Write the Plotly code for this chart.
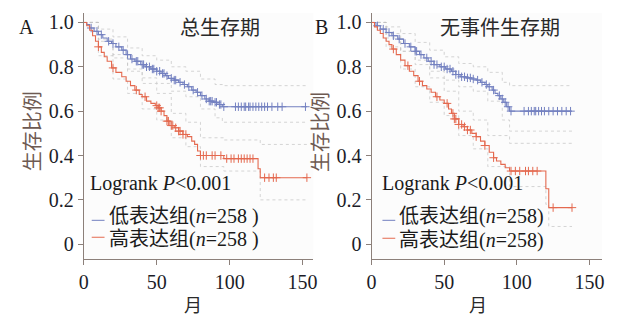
import numpy as np
import plotly.graph_objects as go

W, H = 620, 322

# ---------------- Panel A: overall survival ----------------
a_low_t = [0, 2, 4, 7, 10, 13, 16, 19, 22, 26, 29, 32, 35, 39, 42, 46, 50, 53, 56, 58,
           62, 65, 68, 71, 74, 77, 80, 83, 86, 89, 92, 95, 153]
a_low_s = [1.0, 0.99, 0.975, 0.96, 0.945, 0.93, 0.915, 0.905, 0.89, 0.875, 0.855, 0.835,
           0.825, 0.81, 0.80, 0.79, 0.78, 0.77, 0.76, 0.748, 0.74, 0.73, 0.72, 0.71, 0.695,
           0.685, 0.67, 0.655, 0.645, 0.64, 0.63, 0.62, 0.62]
a_low_cens = [5, 9, 12, 17, 20, 24, 27, 30, 33, 36, 37, 40, 41, 43, 45, 47, 48, 50, 52, 54,
              55, 57, 60, 62, 63, 66, 69, 72, 75, 78, 81, 84, 86, 87, 88, 90, 91, 93, 94, 96,
              104, 106, 108, 110, 111, 113, 114, 116, 118, 120, 122, 124, 126, 129, 133, 136, 152]

a_high_t = [0, 2, 4, 6, 8, 10, 12, 14, 16, 19, 22, 26, 29, 32, 35, 38, 40, 43, 46, 49, 51,
            53, 55, 57, 59, 62, 65, 68, 71, 74, 76, 78, 80, 96, 119.5, 121, 153]
a_high_s = [1.0, 0.985, 0.965, 0.94, 0.915, 0.89, 0.865, 0.845, 0.825, 0.795, 0.775, 0.755,
            0.735, 0.715, 0.695, 0.675, 0.665, 0.645, 0.635, 0.625, 0.615, 0.60, 0.58, 0.555,
            0.535, 0.525, 0.51, 0.495, 0.485, 0.465, 0.45, 0.42, 0.40, 0.386, 0.34, 0.30, 0.30]
a_high_cens = [10, 20, 36, 42, 50, 51, 52, 53, 57, 58, 60, 61, 63, 65, 66, 68, 70, 80, 82, 84,
               88, 90, 94, 98, 101, 103, 106, 108, 110, 112, 114, 116, 124, 127, 130, 132, 153]

a_ci_t = [0, 10, 20, 30, 40, 50, 60, 70, 80, 90, 95, 153]
a_low_upper = [1.0, 0.97, 0.935, 0.885, 0.85, 0.83, 0.80, 0.78, 0.745, 0.72, 0.715, 0.715]
a_low_lower = [1.0, 0.915, 0.855, 0.79, 0.75, 0.725, 0.69, 0.665, 0.61, 0.57, 0.55, 0.55]
a_hci_t = [0, 10, 20, 30, 40, 50, 60, 70, 80, 96, 121, 153]
a_high_upper = [1.0, 0.925, 0.84, 0.78, 0.725, 0.68, 0.59, 0.55, 0.48, 0.47, 0.45, 0.45]
a_high_lower = [1.0, 0.85, 0.745, 0.68, 0.61, 0.56, 0.48, 0.44, 0.35, 0.33, 0.20, 0.20]

# ---------------- Panel B: event-free survival ----------------
b_low_t = [0, 3, 6, 10, 14, 18, 22, 26, 30, 33, 36, 39, 43, 47, 51, 55, 58, 61, 65, 69, 72,
           75, 78, 80, 83, 85, 87, 89, 91, 93, 95, 138]
b_low_s = [1.0, 0.985, 0.97, 0.955, 0.94, 0.925, 0.905, 0.89, 0.87, 0.855, 0.84, 0.825, 0.81,
           0.80, 0.79, 0.78, 0.765, 0.755, 0.75, 0.745, 0.74, 0.73, 0.72, 0.71, 0.695, 0.68,
           0.67, 0.655, 0.64, 0.62, 0.60, 0.60]
b_low_cens = [4, 8, 12, 15, 19, 23, 27, 30, 31, 34, 38, 41, 43, 45, 48, 50, 52, 54, 56, 58,
              60, 62, 64, 66, 68, 70, 73, 76, 79, 81, 84, 88, 90, 92, 94, 96, 105, 108, 110,
              112, 113, 115, 117, 119, 122, 125, 128, 131, 134, 137]

b_high_t = [0, 2, 4, 6, 8, 10, 12, 14, 17, 20, 23, 26, 29, 32, 35, 38, 41, 44, 47, 50, 53, 55,
            57, 60, 63, 66, 69, 72, 75, 78, 81, 84, 86, 89, 92, 95, 120, 122, 138]
b_high_s = [1.0, 0.98, 0.965, 0.95, 0.93, 0.915, 0.9, 0.88, 0.855, 0.83, 0.805, 0.78, 0.76,
            0.735, 0.715, 0.7, 0.685, 0.665, 0.65, 0.635, 0.61, 0.59, 0.565, 0.54, 0.53, 0.515,
            0.5, 0.485, 0.465, 0.445, 0.415, 0.39, 0.375, 0.36, 0.345, 0.33, 0.25, 0.165, 0.165]
b_high_cens = [15, 25, 33, 45, 52, 56, 57, 58, 60, 62, 64, 66, 68, 72, 78, 84, 96, 99, 102,
               106, 108, 111, 114, 125, 138]

b_ci_t = [0, 10, 20, 30, 40, 50, 60, 70, 80, 90, 95, 138]
b_low_upper = [1.0, 0.98, 0.95, 0.91, 0.875, 0.845, 0.815, 0.80, 0.775, 0.73, 0.715, 0.715]
b_low_lower = [1.0, 0.93, 0.87, 0.83, 0.78, 0.74, 0.71, 0.69, 0.645, 0.56, 0.51, 0.51]
b_hci_t = [0, 10, 20, 30, 40, 50, 60, 70, 80, 95, 120, 122, 138]
b_high_upper = [1.0, 0.95, 0.87, 0.81, 0.75, 0.69, 0.60, 0.56, 0.49, 0.455, 0.455, 0.455, 0.455]
b_high_lower = [1.0, 0.89, 0.79, 0.71, 0.64, 0.58, 0.49, 0.43, 0.35, 0.26, 0.18, 0.08, 0.08]

y_ticks = [0, 0.2, 0.4, 0.6, 0.8, 1.0]
y_tick_text = ["0", "0.2", "0.4", "0.6", "0.8", "1.0"]
x_ticks = [0, 50, 100, 150]
panel_titles = ["总生存期", "无事件生存期"]
panel_letters = ["A", "B"]
group_labels = [["低表达组(<i>n</i>=258 )", "高表达组(<i>n</i>=258 )"],
                ["低表达组(<i>n</i>=258)", "高表达组(<i>n</i>=258)"]]
stat_text = "Logrank <i>P</i><0.001"

BLUE = "#7380c0"
RED = "#e4694f"
CI = "rgba(195,195,195,0.7)"
AXIS = "#8c807a"
SERIF = "Liberation Serif, 'Noto Sans CJK SC'"
CJK = "'Noto Sans CJK SC'"


def fx(p):
    return p / W


def fy(p):
    return 1 - p / H


def at(t, s, tc):
    idx = np.searchsorted(np.asarray(t), np.asarray(tc), side="right") - 1
    return np.asarray(s)[idx]


fig = go.Figure()

panels = [
    dict(xa="x", ya="y",
         curves=[(a_low_t, a_low_s, a_low_cens, BLUE), (a_high_t, a_high_s, a_high_cens, RED)],
         bands=[(a_ci_t, a_low_upper, a_low_lower), (a_hci_t, a_high_upper, a_high_lower)]),
    dict(xa="x2", ya="y2",
         curves=[(b_low_t, b_low_s, b_low_cens, BLUE), (b_high_t, b_high_s, b_high_cens, RED)],
         bands=[(b_ci_t, b_low_upper, b_low_lower), (b_hci_t, b_high_upper, b_high_lower)]),
]

for p in panels:
    for bt, up, lo in p["bands"]:
        for arr in (up, lo):
            fig.add_trace(go.Scatter(x=bt, y=arr, mode="lines", xaxis=p["xa"], yaxis=p["ya"],
                                     line=dict(color=CI, width=1, dash="dot", shape="hv"),
                                     showlegend=False, hoverinfo="skip"))
    for t, s, cens, col in p["curves"]:
        fig.add_trace(go.Scatter(x=t, y=s, mode="lines", xaxis=p["xa"], yaxis=p["ya"],
                                 line=dict(color=col, width=1.1, shape="hv"),
                                 showlegend=False))
        fig.add_trace(go.Scatter(x=cens, y=at(t, s, cens), mode="markers",
                                 xaxis=p["xa"], yaxis=p["ya"],
                                 marker=dict(symbol="cross-thin", size=6,
                                             line=dict(color=col, width=1)),
                                 showlegend=False))

axis_common = dict(showline=True, linecolor=AXIS, linewidth=1, ticks="outside", ticklen=5,
                   tickcolor=AXIS, tickwidth=1, showgrid=False, zeroline=False,
                   tickfont=dict(family=SERIF, size=20, color="#1c1c28"))

y_top, y_bot = 12, 259
y_dom = [fy(y_bot), fy(y_top)]
y_rng = [-(y_bot - 244) / 222, 1 + (21.5 - y_top) / 222]

fig.update_layout(
    width=W, height=H, margin=dict(l=0, r=0, t=0, b=0),
    paper_bgcolor="white", plot_bgcolor="#fcfcfc",
    xaxis=dict(domain=[fx(80), fx(313)], range=[0, 157.5], tickvals=x_ticks,
               anchor="y", **axis_common),
    yaxis=dict(domain=y_dom, range=y_rng, tickvals=y_ticks, ticktext=y_tick_text,
               anchor="x", **axis_common),
    xaxis2=dict(domain=[fx(372), fx(606)], range=[0, 158.8], tickvals=x_ticks,
                anchor="y2", **axis_common),
    yaxis2=dict(domain=y_dom, range=y_rng, tickvals=y_ticks, ticktext=y_tick_text,
                anchor="x2", **axis_common),
)

ann = []
shapes = []
# per-panel text placement in pixels
layout_px = [
    dict(letter=(22, 26), title=(218, 26), ytitle=(27, 131), xtitle=(191, 304),
         stat=(84, 183), leg=(88, 104, [216, 239], [220, 237])),
    dict(letter=(321, 26), title=(502, 26), ytitle=(319, 131), xtitle=(480, 304),
         stat=(381, 183), leg=(383, 398, [216, 240], [220, 238])),
]
for i, L in enumerate(layout_px):
    ann.append(dict(x=fx(L["letter"][0]), y=fy(L["letter"][1]), text=panel_letters[i],
                    font=dict(family=SERIF, size=20, color="#1a1a1a")))
    ann.append(dict(x=fx(L["title"][0]), y=fy(L["title"][1]), text=panel_titles[i],
                    font=dict(family=CJK, size=20, color="#2a2a2a")))
    ann.append(dict(x=fx(L["ytitle"][0]), y=fy(L["ytitle"][1]), text="生存比例", textangle=-90,
                    font=dict(family=CJK, size=20, color="#6e5a52")))
    ann.append(dict(x=fx(L["xtitle"][0]), y=fy(L["xtitle"][1]), text="月",
                    font=dict(family=CJK, size=18, color="#2a2a2a")))
    ann.append(dict(x=fx(L["stat"][0]), y=fy(L["stat"][1]), text=stat_text, xanchor="left",
                    font=dict(family=SERIF, size=20, color="#1a1a1a")))
    dash_x, text_x, text_y, dash_y = L["leg"]
    for j, col in enumerate([BLUE, RED]):
        ann.append(dict(x=fx(text_x), y=fy(text_y[j]), text=group_labels[i][j], xanchor="left",
                        font=dict(family=SERIF, size=20, color="#1a1a1a")))
        shapes.append(dict(type="line", xref="paper", yref="paper",
                           x0=fx(dash_x), x1=fx(dash_x + 13), y0=fy(dash_y[j]), y1=fy(dash_y[j]),
                           line=dict(color=col, width=1)))

for a in ann:
    a.update(xref="paper", yref="paper", showarrow=False)
    a.setdefault("xanchor", "center")
    a.setdefault("yanchor", "middle")

fig.update_layout(annotations=ann, shapes=shapes)
fig.write_html("out.html")
